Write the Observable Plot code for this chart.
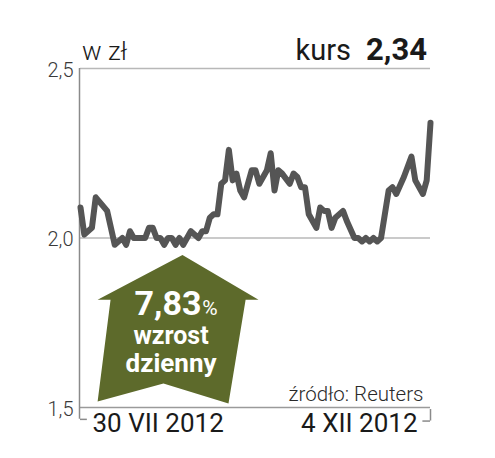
<!DOCTYPE html>
<html><head><meta charset="utf-8">
<script src="https://cdn.jsdelivr.net/npm/d3@7"></script>
<script src="https://cdn.jsdelivr.net/npm/@observablehq/plot@0.6"></script>
<style>
body{margin:0;background:#fff;font-family:Roboto,sans-serif}
#chart{width:495px;height:458px}
</style></head>
<body><div id="chart"></div>
<script>
// trading-day index (0 = 30 VII 2012, 92 = 4 XII 2012)
const days = [0,1,3,4,7,9,11,12,13,14,17,18,19,20,21,22,23,24,25,26,27,29,31,32,33,34,35,36,37,38,39,40,41,42,43,45,46,47,49,50,51,52,53,55,56,57,58,59,60,62,63,64,65,66,67,69,70,72,73,74,75,76,77,78,79,81,82,83,85,87,88,90,91,92];
const prices = [2.09,2.01,2.03,2.12,2.08,1.98,2.00,1.98,2.02,2.00,2.00,2.03,2.03,2.00,2.00,1.98,2.00,2.00,1.98,2.00,1.98,2.02,2.00,2.02,2.02,2.06,2.07,2.07,2.16,2.17,2.26,2.17,2.19,2.14,2.12,2.20,2.20,2.16,2.20,2.25,2.14,2.20,2.19,2.16,2.19,2.18,2.15,2.15,2.07,2.03,2.09,2.08,2.08,2.03,2.06,2.08,2.05,2.00,2.00,1.99,2.00,1.99,2.00,1.99,2.00,2.14,2.15,2.13,2.18,2.24,2.17,2.13,2.17,2.34];
const yTicks = [1.5, 2.0, 2.5];
const gridValues = [2.0, 2.5];
const dateLabels = ["30 VII 2012", "4 XII 2012"];
const unitLabel = "w zł";
const kursLabel = "kurs";
const kursValue = "2,34";
const changeValue = "7,83";
const changeLines = ["wzrost", "dzienny"];
const sourceLabel = "źródło: Reuters";
// arrow annotation outline (day, value)
const arrowDays = [26.8, 46.8, 43.4, 38.9, 21.8, 4.5, 7.9, 4.5, 26.8];
const arrowVals = [1.950, 1.818, 1.818, 1.512, 1.571, 1.518, 1.818, 1.818, 1.950];

const series = days.map((d, i) => ({day: d, price: prices[i]}));
const arrow = arrowDays.map((d, i) => ({day: d, v: arrowVals[i]}));
const fmt = d => d.toFixed(1).replace(".", ",");
const lastDay = days[days.length - 1];

const chart = Plot.plot({
  width: 495,
  height: 458,
  marginTop: 68,
  marginBottom: 51,
  marginLeft: 80,
  marginRight: 65,
  style: {fontFamily: "Roboto, sans-serif", background: "#fff", overflow: "visible"},
  x: {domain: [0, lastDay], axis: null},
  y: {domain: [1.5, 2.5], axis: null},
  marks: [
    Plot.ruleY(gridValues, {x1: 0, x2: lastDay, stroke: "#b8b8b8", strokeWidth: 1.5}),
    Plot.ruleY([1.5], {x1: 0, x2: lastDay, stroke: "#9a9a9a", strokeWidth: 1.5}),
    Plot.ruleX([0], {y1: 2.5, y2: 1.465, stroke: "#8a8a8a", strokeWidth: 1.5, dx: -1}),
    Plot.ruleY([1.465], {x1: 0, x2: 1.8, stroke: "#8a8a8a", strokeWidth: 1.5}),
    Plot.ruleX([lastDay], {y1: 1.494, y2: 1.46, stroke: "#8a8a8a", strokeWidth: 1.5}),
    Plot.ruleY([1.46], {x1: lastDay - 2, x2: lastDay, stroke: "#8a8a8a", strokeWidth: 1.5}),
    Plot.axisY(yTicks, {tickSize: 0, tickPadding: 7, fontSize: 20, fontWeight: 300, tickFormat: fmt, fill: "#3a3a3a", dy: 2}),
    Plot.line(series, {x: "day", y: "price", stroke: "#555555", strokeWidth: 6, strokeLinejoin: "round", strokeLinecap: "round"}),
    Plot.line(arrow, {x: "day", y: "v", fill: "#5d6a2b", stroke: "none"}),
    Plot.text([changeValue], {x: 31.8, y: 1.806, text: d => d, textAnchor: "end", fill: "#fff", fontSize: 34, fontWeight: "bold"}),
    Plot.text(["%"], {x: 32.0, y: 1.792, text: d => d, textAnchor: "start", fill: "#fff", fontSize: 21}),
    Plot.text([changeLines[0]], {x: 23.8, y: 1.712, text: d => d, fill: "#fff", fontSize: 25, fontWeight: "bold"}),
    Plot.text([changeLines[1]], {x: 23.8, y: 1.628, text: d => d, fill: "#fff", fontSize: 26, fontWeight: "bold"}),
    Plot.text([sourceLabel], {x: lastDay, y: 1.538, text: d => d, textAnchor: "end", dx: -7, fill: "#2a2a2a", fontSize: 20.5, fontWeight: 300}),
    Plot.text([dateLabels[0]], {x: 0, y: 1.453, text: d => d, textAnchor: "start", dx: 12, fill: "#1a1a1a", fontSize: 26}),
    Plot.text([dateLabels[1]], {x: lastDay, y: 1.453, text: d => d, textAnchor: "end", dx: -13, fill: "#1a1a1a", fontSize: 26})
  ]
});

const svg = d3.select(chart);
svg.append("text").attr("x", 82).attr("y", 60).attr("text-anchor", "start").attr("font-size", 26).attr("font-weight", 300)
  .attr("fill", "#1a1a1a").text(unitLabel);
svg.append("text").attr("x", 351).attr("y", 60).attr("text-anchor", "end").attr("font-size", 29)
  .attr("fill", "#1a1a1a").text(kursLabel);
svg.append("text").attr("x", 427).attr("y", 60).attr("text-anchor", "end").attr("font-size", 31)
  .attr("font-weight", "bold").attr("fill", "#1a1a1a").text(kursValue);

document.getElementById("chart").appendChild(chart);
</script>
</body></html>
